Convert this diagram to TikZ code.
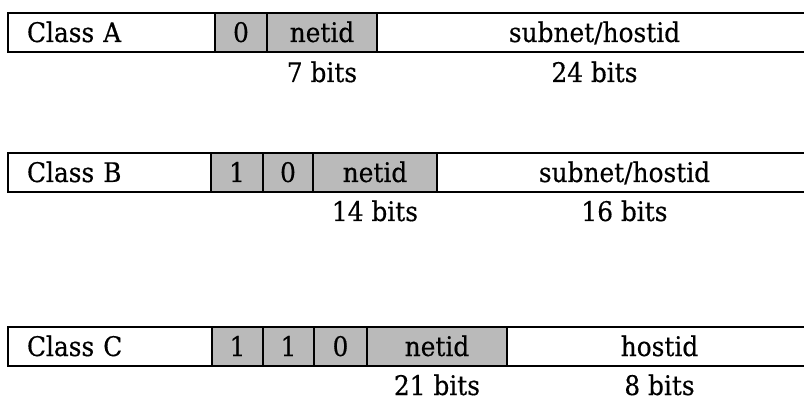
\documentclass[tikz,border=0pt]{standalone}
\usepackage{fontspec}
\newfontfamily\cellfont{DejaVu Serif}[FakeStretch=0.92, FakeBold=0.4]
\begin{document}
\begin{tikzpicture}[x=1pt,y=-1pt,
  cell/.style={draw=black, line width=2pt, inner sep=0pt, outer sep=0pt,
    minimum height=39pt, anchor=north west, font=\cellfont\fontsize{27}{30}\selectfont,
    text height=19pt, text depth=0pt},
  shaded/.style={cell, fill=black!27},
  classcell/.style={cell, inner xsep=19pt, align=left},
  bits/.style={anchor=base, font=\cellfont\fontsize{27}{30}\selectfont, inner sep=0pt}]
\useasboundingbox (0,0) rectangle (804,401);
\fill[white] (0,0) rectangle (804,401);

% Class A: 0 | netid (7 bits) | subnet/hostid (24 bits)
\node[classcell, minimum width=207pt, text width=169pt] (aclass) at (8,13) {Class A};
\node[shaded, minimum width=52pt]  (abit1) at (215,13) {0};
\node[shaded, minimum width=110pt] (anet)  at (267,13) {netid};
\node[cell,   minimum width=435pt] (ahost) at (377,13) {subnet/hostid};
\node[bits] (anetbits)  at ([yshift=-30pt]anet.south)  {7 bits};
\node[bits] (ahostbits) at ([yshift=-30pt]ahost.south) {24 bits};

% Class B: 1 0 | netid (14 bits) | subnet/hostid (16 bits)
\node[classcell, minimum width=203pt, text width=165pt] (bclass) at (8,153) {Class B};
\node[shaded, minimum width=52pt]  (bbit1) at (211,153) {1};
\node[shaded, minimum width=50pt]  (bbit2) at (263,153) {0};
\node[shaded, minimum width=124pt] (bnet)  at (313,153) {netid};
\node[cell,   minimum width=375pt] (bhost) at (437,153) {subnet/hostid};
\node[bits] (bnetbits)  at ([yshift=-29pt]bnet.south)  {14 bits};
\node[bits] (bhostbits) at ([yshift=-29pt]bhost.south) {16 bits};

% Class C: 1 1 0 | netid (21 bits) | hostid (8 bits)
\node[classcell, minimum width=204pt, text width=166pt] (cclass) at (8,327) {Class C};
\node[shaded, minimum width=51pt]  (cbit1) at (212,327) {1};
\node[shaded, minimum width=51pt]  (cbit2) at (263,327) {1};
\node[shaded, minimum width=53pt]  (cbit3) at (314,327) {0};
\node[shaded, minimum width=140pt] (cnet)  at (367,327) {netid};
\node[cell,   minimum width=305pt] (chost) at (507,327) {hostid};
\node[bits] (cnetbits)  at ([yshift=-29pt]cnet.south)  {21 bits};
\node[bits] (chostbits) at ([yshift=-29pt]chost.south) {8 bits};
\end{tikzpicture}
\end{document}
